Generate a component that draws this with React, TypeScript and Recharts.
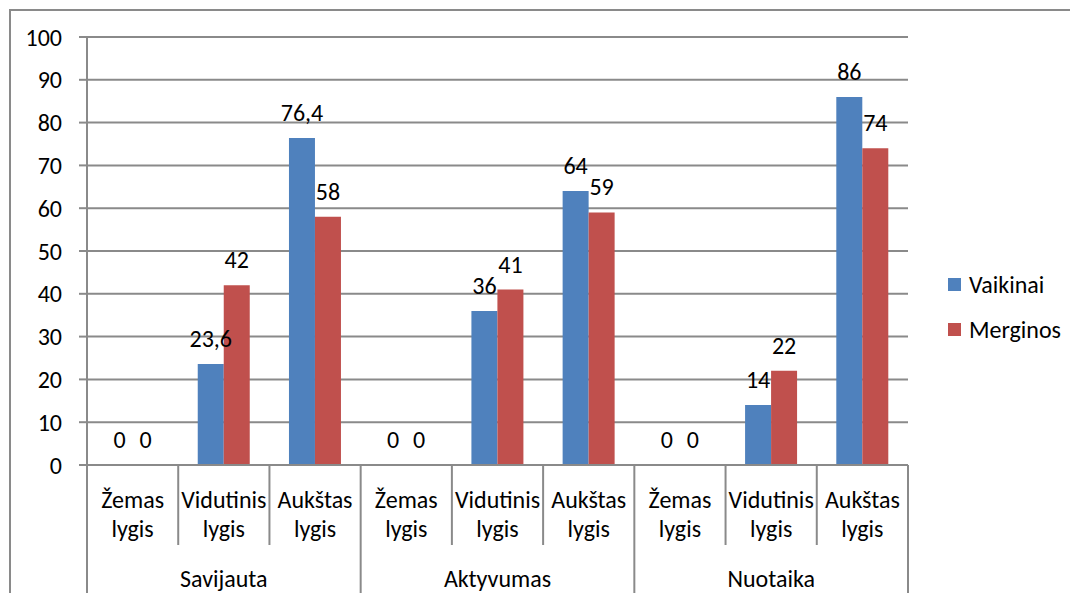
import React from 'react';
import { BarChart, Bar, XAxis, YAxis, CartesianGrid, LabelList } from 'recharts';

const groups = ['Savijauta', 'Aktyvumas', 'Nuotaika'];
const levels = [
  ['Žemas', 'lygis'],
  ['Vidutinis', 'lygis'],
  ['Aukštas', 'lygis'],
];
const seriesNames = ['Vaikinai', 'Merginos'];
const vaikinai = [0, 23.6, 76.4, 0, 36, 64, 0, 14, 86];
const merginos = [0, 42, 58, 0, 41, 59, 0, 22, 74];
const yTicks = [0, 10, 20, 30, 40, 50, 60, 70, 80, 90, 100];

const data = vaikinai.map((v, i) => ({
  key: `c${i}`,
  group: groups[Math.floor(i / 3)],
  level: levels[i % 3],
  Vaikinai: v,
  Merginos: merginos[i],
}));

const W = 1078;
const H = 601;
const LEFT = 87;
const RIGHT = 170;
const BAND = (W - LEFT - RIGHT) / data.length;
const GRAY = '#8a8a8a';
const FONT = 'Calibri, Carlito, Lato, sans-serif';
const FS = 24;
const COLORS = ['#4F81BD', '#C0504D'];

const fmt = (v: any) => String(v).replace('.', ',');

const CategoryTick = (props: any) => {
  const { x, y, payload } = props;
  const i = payload.index;
  const d = data[i];
  const x0 = x - BAND / 2;
  return (
    <g>
      <line x1={x0} x2={x0} y1={y} y2={i % 3 === 0 ? y + 128 : y + 80} stroke={GRAY} strokeWidth={2} />
      {i === data.length - 1 && (
        <line x1={x0 + BAND} x2={x0 + BAND} y1={y} y2={y + 128} stroke={GRAY} strokeWidth={2} />
      )}
      <text x={x} y={y + 34} textAnchor="middle" dominantBaseline="central" fontSize={FS} fontFamily={FONT} fill="#000">
        {d.level[0]}
      </text>
      <text x={x} y={y + 63} textAnchor="middle" dominantBaseline="central" fontSize={FS} fontFamily={FONT} fill="#000">
        {d.level[1]}
      </text>
      {i % 3 === 1 && (
        <text x={x} y={y + 113} textAnchor="middle" dominantBaseline="central" fontSize={FS} fontFamily={FONT} fill="#000">
          {d.group}
        </text>
      )}
    </g>
  );
};

const ValueLabel = (props: any) => {
  const { x, y, width, value } = props;
  return (
    <text x={x + width / 2} y={y - 17} textAnchor="middle" fontSize={FS} fontFamily={FONT} fill="#000">
      {fmt(value)}
    </text>
  );
};

const App: React.FC = () => {
  return (
    <div style={{ position: 'relative', width: W, height: H, margin: -8, overflow: 'hidden', background: '#fff' }}>
      <div
        style={{
          position: 'absolute',
          left: 9,
          top: 9,
          width: W,
          height: H,
          borderLeft: `2px solid ${GRAY}`,
          borderTop: `2px solid ${GRAY}`,
        }}
      />
      <div style={{ position: 'absolute', left: 0, top: 0 }}>
        <BarChart
          width={W}
          height={H}
          data={data}
          margin={{ top: 37, right: RIGHT, left: 0, bottom: 0 }}
          barCategoryGap="21.4%"
          barGap={0}
        >
          <CartesianGrid vertical={false} stroke={GRAY} strokeWidth={2} />
          <XAxis
            dataKey="key"
            height={136}
            interval={0}
            tickLine={false}
            tickSize={0}
            tickMargin={0}
            axisLine={{ stroke: GRAY, strokeWidth: 2 }}
            tick={<CategoryTick />}
          />
          <YAxis
            width={LEFT}
            domain={[0, 100]}
            ticks={yTicks}
            interval={0}
            tickSize={8}
            tickMargin={17}
            tickLine={{ stroke: GRAY, strokeWidth: 2 }}
            axisLine={{ stroke: GRAY, strokeWidth: 2 }}
            tick={{ fill: '#000', fontSize: FS, fontFamily: FONT }}
          />
          {seriesNames.map((name, s) => (
            // tiny min size so the zero bars still get their "0" label
            <Bar key={name} dataKey={name} fill={COLORS[s]} minPointSize={0.01} isAnimationActive={false}>
              <LabelList dataKey={name} content={<ValueLabel />} />
            </Bar>
          ))}
        </BarChart>
      </div>
      <div style={{ position: 'absolute', left: 948, top: 262, fontFamily: FONT, fontSize: FS, color: '#000' }}>
        {seriesNames.map((name, s) => (
          <div key={name} style={{ display: 'flex', alignItems: 'center', height: 45 }}>
            <span style={{ width: 13, height: 13, background: COLORS[s], marginRight: 8, display: 'inline-block' }} />
            <span>{name}</span>
          </div>
        ))}
      </div>
    </div>
  );
};

export default App;
